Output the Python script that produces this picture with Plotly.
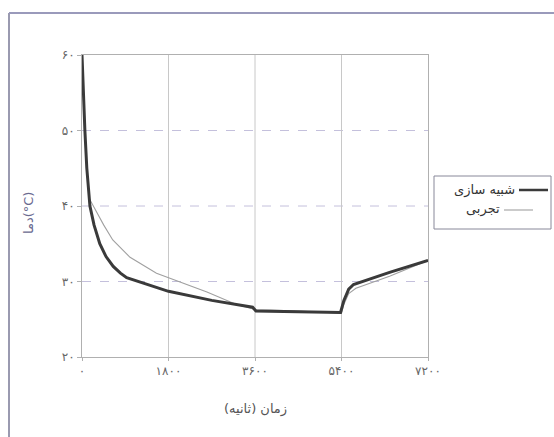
import plotly.graph_objects as go

# ---- data ----
sim_t = [0, 30, 60, 100, 165, 250, 370, 500, 650, 800, 930, 1800, 2700, 3550, 3620, 4500, 5380, 5450, 5550, 5650, 6400, 7200]
sim_T = [60, 54, 50, 45, 40, 37.5, 35.0, 33.3, 32.0, 31.1, 30.5, 28.7, 27.5, 26.6, 26.1, 26.0, 25.9, 27.5, 29.0, 29.6, 31.2, 32.8]

exp_t = [0, 30, 60, 100, 150, 270, 450, 640, 1000, 1550, 2000, 2600, 3200, 3600, 4500, 5400, 5450, 5550, 5700, 6400, 7200]
exp_T = [60, 54, 50, 45, 41, 39.6, 37.5, 35.5, 33.2, 31.1, 30.0, 28.6, 27.0, 26.3, 26.1, 25.8, 27.0, 28.4, 29.1, 30.7, 32.8]

x_ticks = [0, 1800, 3600, 5400, 7200]
x_tick_labels = ["۰", "۱۸۰۰", "۳۶۰۰", "۵۴۰۰", "۷۲۰۰"]
y_ticks = [20, 30, 40, 50, 60]
y_tick_labels = ["۲۰", "۳۰", "۴۰", "۵۰", "۶۰"]

sim_name = "شبیه سازی"
exp_name = "تجربی"
x_title = "زمان (ثانیه)"
y_title = "دما(°C)"

W, H = 554, 437
L, R, T, B = 82, 428, 55, 357
FONT = "DejaVu Sans"


def px(x):
    return (x - L) / (R - L)


def py(y):
    return (B - y) / (B - T)


fig = go.Figure()
fig.add_trace(go.Scatter(x=exp_t, y=exp_T, mode="lines", name=exp_name,
                         line=dict(color="#a0a0a0", width=1.1), showlegend=False))
fig.add_trace(go.Scatter(x=sim_t, y=sim_T, mode="lines", name=sim_name,
                         line=dict(color="#3a3a3a", width=3), showlegend=False))

shapes = []
# horizontal gridlines (dashed, scanned look)
for v in [30, 40, 50]:
    shapes.append(dict(type="line", xref="x", yref="y", x0=0, x1=7200, y0=v, y1=v,
                       line=dict(color="#c4c0dc", width=1, dash="dash"), layer="below"))
# vertical gridlines
for v in [1800, 3600, 5400]:
    shapes.append(dict(type="line", xref="x", yref="y", x0=v, x1=v, y0=20, y1=60,
                       line=dict(color="#c8c8c8", width=1), layer="below"))
# outer frame (left and top visible)
shapes.append(dict(type="line", xref="paper", yref="paper", x0=px(9), x1=px(9), y0=py(437), y1=py(13),
                   line=dict(color="#9a9ab0", width=2)))
shapes.append(dict(type="line", xref="paper", yref="paper", x0=px(9), x1=px(554), y0=py(13), y1=py(13),
                   line=dict(color="#9a9abb", width=2)))
# legend box
shapes.append(dict(type="rect", xref="paper", yref="paper", x0=px(434), x1=px(551), y0=py(229), y1=py(176),
                   line=dict(color="#888899", width=1), fillcolor="white"))
# legend samples
shapes.append(dict(type="line", xref="paper", yref="paper", x0=px(519), x1=px(548), y0=py(190), y1=py(190),
                   line=dict(color="#3a3a3a", width=2.5)))
shapes.append(dict(type="line", xref="paper", yref="paper", x0=px(504), x1=px(533), y0=py(210), y1=py(210),
                   line=dict(color="#a0a0a0", width=1.1)))

annotations = [
    dict(text=sim_name, xref="paper", yref="paper", x=px(517), y=py(190), xanchor="right", yanchor="middle",
         showarrow=False, font=dict(family=FONT, size=13, color="#333")),
    dict(text=exp_name, xref="paper", yref="paper", x=px(502), y=py(209), xanchor="right", yanchor="middle",
         showarrow=False, font=dict(family=FONT, size=13, color="#333")),
    dict(text=x_title, xref="paper", yref="paper", x=px(255), y=py(409), xanchor="center", yanchor="middle",
         showarrow=False, font=dict(family=FONT, size=13, color="#555")),
    dict(text=y_title, xref="paper", yref="paper", x=px(28), y=py(213), xanchor="center", yanchor="middle",
         textangle=-90, showarrow=False, font=dict(family=FONT, size=13, color="#6a6a90")),
]

fig.update_layout(
    width=W, height=H,
    margin=dict(l=L, r=W - R, t=T, b=H - B),
    paper_bgcolor="white", plot_bgcolor="white",
    shapes=shapes, annotations=annotations,
    showlegend=False,
    font=dict(family=FONT),
)
fig.update_xaxes(range=[0, 7200], tickvals=x_ticks, ticktext=x_tick_labels, showgrid=False,
                 zeroline=False, showline=True, linecolor="#b0b0b0", linewidth=1, mirror=True,
                 ticks="outside", ticklen=3, tickcolor="#b0b0b0",
                 tickfont=dict(family=FONT, size=12, color="#666"))
fig.update_yaxes(range=[20, 60], tickvals=y_ticks, ticktext=y_tick_labels, showgrid=False,
                 zeroline=False, showline=True, linecolor="#b0b0b0", linewidth=1, mirror=True,
                 ticks="outside", ticklen=4, tickcolor="#b0b0b0",
                 tickfont=dict(family=FONT, size=12, color="#666"))

fig.write_html("out.html")
